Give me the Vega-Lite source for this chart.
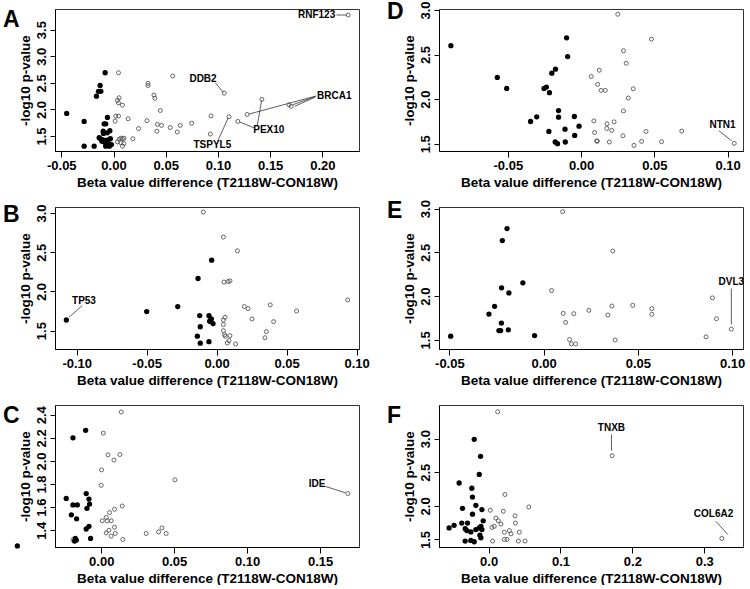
{
  "$schema": "https://vega.github.io/schema/vega-lite/v6.json",
  "background": "white",
  "padding": {"left": 2, "top": 0, "right": 5, "bottom": 0},
  "columns": 2,
  "spacing": {"row": 56, "column": 80},
  "bounds": "flush",
  "config": {
    "font": "Liberation Sans",
    "view": {"stroke": "#333", "strokeWidth": 1},
    "axis": {"grid": false, "labelFont": "Liberation Sans", "labelFontWeight": "bold", "labelFontSize": 13, "labelColor": "black",
             "titleFont": "Liberation Sans", "titleFontWeight": "bold", "titleFontSize": 13.5, "titleColor": "black",
             "tickColor": "black", "domainColor": "black", "labelOverlap": false, "labelFlush": false},
    "axisX": {"tickSize": 6, "labelPadding": 2, "titlePadding": 3},
    "axisY": {"tickSize": 5, "labelPadding": 2, "titlePadding": 3, "labelAngle": -90, "labelAlign": "center", "labelBaseline": "bottom"},
    "title": {"anchor": "start", "frame": "group", "font": "Liberation Sans", "fontSize": 23, "fontWeight": "bold", "color": "black", "dx": -52, "offset": -23}
  },
  "datasets": {
    "A": [
      {"x": -0.0448, "y": 1.925, "t": "f"}, {"x": -0.0281, "y": 1.775, "t": "f"}, {"x": -0.0281, "y": 1.31, "t": "f"}, {"x": -0.0185, "y": 1.31, "t": "f"},
      {"x": -0.008, "y": 2.69, "t": "f"}, {"x": -0.0128, "y": 2.45, "t": "f"}, {"x": -0.0144, "y": 2.34, "t": "f"}, {"x": -0.0121, "y": 2.34, "t": "f"},
      {"x": -0.0163, "y": 2.25, "t": "f"}, {"x": -0.0058, "y": 1.85, "t": "f"}, {"x": -0.009, "y": 1.73, "t": "f"}, {"x": -0.0074, "y": 1.73, "t": "f"},
      {"x": -0.0099, "y": 1.59, "t": "f"}, {"x": -0.0035, "y": 1.6, "t": "f"}, {"x": -0.006, "y": 1.56, "t": "f"}, {"x": -0.0096, "y": 1.55, "t": "f"},
      {"x": -0.0137, "y": 1.47, "t": "f"}, {"x": -0.012, "y": 1.44, "t": "f"}, {"x": -0.01, "y": 1.43, "t": "f"}, {"x": -0.0075, "y": 1.42, "t": "f"},
      {"x": -0.005, "y": 1.43, "t": "f"}, {"x": -0.003, "y": 1.45, "t": "f"}, {"x": -0.011, "y": 1.4, "t": "f"}, {"x": -0.008, "y": 1.375, "t": "f"},
      {"x": -0.0055, "y": 1.37, "t": "f"}, {"x": -0.0074, "y": 1.31, "t": "f"}, {"x": -0.004, "y": 1.31, "t": "f"}, {"x": -0.002, "y": 1.34, "t": "f"},
      {"x": 0.0048, "y": 2.69, "t": "o"}, {"x": 0.0566, "y": 2.63, "t": "o"}, {"x": 0.033, "y": 2.49, "t": "o"}, {"x": 0.033, "y": 2.45, "t": "o"},
      {"x": 0.0387, "y": 2.27, "t": "o"}, {"x": 0.0396, "y": 2.21, "t": "o"}, {"x": 0.106, "y": 2.306, "t": "o"}, {"x": 0.0054, "y": 2.22, "t": "o"},
      {"x": 0.0038, "y": 2.17, "t": "o"}, {"x": 0.0048, "y": 2.125, "t": "o"}, {"x": 0.0086, "y": 2.08, "t": "o"}, {"x": 0.0448, "y": 1.98, "t": "o"},
      {"x": 0.142, "y": 2.19, "t": "o"}, {"x": 0.168, "y": 2.088, "t": "o"}, {"x": 0.17, "y": 2.058, "t": "o"}, {"x": 0.1279, "y": 1.906, "t": "o"},
      {"x": 0.119, "y": 1.775, "t": "o"}, {"x": 0.1106, "y": 1.8625, "t": "o"}, {"x": 0.0934, "y": 1.88, "t": "o"}, {"x": 0.0927, "y": 1.5375, "t": "o"},
      {"x": 0.0748, "y": 1.74, "t": "o"}, {"x": 0.0639, "y": 1.7, "t": "o"}, {"x": 0.061, "y": 1.575, "t": "o"}, {"x": 0.0543, "y": 1.66, "t": "o"},
      {"x": 0.046, "y": 1.7, "t": "o"}, {"x": 0.042, "y": 1.72, "t": "o"}, {"x": 0.0416, "y": 1.59, "t": "o"}, {"x": 0.032, "y": 1.79, "t": "o"},
      {"x": 0.024, "y": 1.64, "t": "o"}, {"x": 0.014, "y": 1.825, "t": "o"}, {"x": 0.0022, "y": 1.875, "t": "o"}, {"x": 0.0048, "y": 1.875, "t": "o"},
      {"x": 0.0016, "y": 1.78, "t": "o"}, {"x": 0.0185, "y": 1.45, "t": "o"}, {"x": 0.007, "y": 1.46, "t": "o"}, {"x": 0.0054, "y": 1.44, "t": "o"},
      {"x": 0.0086, "y": 1.45, "t": "o"}, {"x": 0.01, "y": 1.46, "t": "o"}, {"x": 0.0038, "y": 1.39, "t": "o"}, {"x": 0.007, "y": 1.375, "t": "o"},
      {"x": 0.01, "y": 1.36, "t": "o"}, {"x": 0.0086, "y": 1.31, "t": "o"}, {"x": 0.2247, "y": 3.775, "t": "o"}
    ],
    "A_lab": [
      {"x": 0.1944, "y": 3.775, "label": "RNF123"}, {"x": 0.0857, "y": 2.58, "label": "DDB2"}, {"x": 0.2113, "y": 2.25, "label": "BRCA1"},
      {"x": 0.1487, "y": 1.606, "label": "PEX10"}, {"x": 0.0946, "y": 1.331, "label": "TSPYL5"}
    ],
    "A_seg": [
      {"x": 0.2134, "y": 3.775, "x2": 0.2232, "y2": 3.775}, {"x": 0.0975, "y": 2.5, "x2": 0.1049, "y2": 2.325},
      {"x": 0.1934, "y": 2.25, "x2": 0.1295, "y2": 1.912}, {"x": 0.1934, "y": 2.245, "x2": 0.1715, "y2": 2.088}, {"x": 0.1934, "y": 2.235, "x2": 0.1735, "y2": 2.06},
      {"x": 0.1375, "y": 1.6875, "x2": 0.1418, "y2": 2.17}, {"x": 0.1343, "y": 1.656, "x2": 0.1208, "y2": 1.765},
      {"x": 0.0997, "y": 1.406, "x2": 0.1098, "y2": 1.84}
    ],
    "D": [
      {"x": -0.0889, "y": 2.599, "t": "f"}, {"x": -0.0572, "y": 2.243, "t": "f"}, {"x": -0.0508, "y": 2.12, "t": "f"}, {"x": -0.0253, "y": 2.12, "t": "f"},
      {"x": -0.0237, "y": 2.135, "t": "f"}, {"x": -0.0216, "y": 2.072, "t": "f"}, {"x": -0.02, "y": 2.291, "t": "f"}, {"x": -0.0175, "y": 2.336, "t": "f"},
      {"x": -0.0099, "y": 2.688, "t": "f"}, {"x": -0.0092, "y": 2.477, "t": "f"}, {"x": -0.0154, "y": 1.871, "t": "f"}, {"x": -0.0154, "y": 1.797, "t": "f"},
      {"x": -0.0303, "y": 1.801, "t": "f"}, {"x": -0.0345, "y": 1.749, "t": "f"}, {"x": -0.0046, "y": 1.805, "t": "f"}, {"x": -0.0014, "y": 1.697, "t": "f"},
      {"x": -0.011, "y": 1.663, "t": "f"}, {"x": -0.022, "y": 1.637, "t": "f"}, {"x": -0.0044, "y": 1.593, "t": "f"}, {"x": -0.0177, "y": 1.519, "t": "f"},
      {"x": -0.0161, "y": 1.5, "t": "f"}, {"x": -0.0108, "y": 1.519, "t": "f"},
      {"x": 0.025, "y": 2.952, "t": "o"}, {"x": 0.048, "y": 2.673, "t": "o"}, {"x": 0.0289, "y": 2.543, "t": "o"}, {"x": 0.0308, "y": 2.402, "t": "o"},
      {"x": 0.0124, "y": 2.324, "t": "o"}, {"x": 0.0069, "y": 2.254, "t": "o"}, {"x": 0.0113, "y": 2.165, "t": "o"}, {"x": 0.0136, "y": 2.098, "t": "o"},
      {"x": 0.0165, "y": 2.098, "t": "o"}, {"x": 0.0356, "y": 2.116, "t": "o"}, {"x": 0.0322, "y": 2.012, "t": "o"}, {"x": 0.0289, "y": 1.868, "t": "o"},
      {"x": 0.0087, "y": 1.756, "t": "o"}, {"x": 0.0177, "y": 1.723, "t": "o"}, {"x": 0.0225, "y": 1.745, "t": "o"}, {"x": 0.0175, "y": 1.671, "t": "o"},
      {"x": 0.0209, "y": 1.649, "t": "o"}, {"x": 0.0092, "y": 1.626, "t": "o"}, {"x": 0.0285, "y": 1.589, "t": "o"}, {"x": 0.0443, "y": 1.637, "t": "o"},
      {"x": 0.0687, "y": 1.641, "t": "o"}, {"x": 0.0106, "y": 1.53, "t": "o"}, {"x": 0.0111, "y": 1.528, "t": "o"}, {"x": 0.0193, "y": 1.519, "t": "o"},
      {"x": 0.0413, "y": 1.526, "t": "o"}, {"x": 0.0549, "y": 1.522, "t": "o"}, {"x": 0.0361, "y": 1.481, "t": "o"}, {"x": 0.1045, "y": 1.504, "t": "o"}
    ],
    "D_lab": [{"x": 0.0965, "y": 1.712, "label": "NTN1"}],
    "D_seg": [{"x": 0.094, "y": 1.645, "x2": 0.1027, "y2": 1.533}],
    "B": [
      {"x": -0.1074, "y": 1.636, "t": "f"}, {"x": -0.05, "y": 1.743, "t": "f"}, {"x": -0.0278, "y": 1.807, "t": "f"}, {"x": -0.0133, "y": 2.165, "t": "f"},
      {"x": -0.0036, "y": 2.399, "t": "f"}, {"x": -0.0121, "y": 1.692, "t": "f"}, {"x": -0.0055, "y": 1.69, "t": "f"}, {"x": -0.0038, "y": 1.65, "t": "f"},
      {"x": -0.005, "y": 1.62, "t": "f"}, {"x": -0.0026, "y": 1.59, "t": "f"}, {"x": -0.0117, "y": 1.55, "t": "f"}, {"x": -0.0138, "y": 1.43, "t": "f"},
      {"x": -0.0117, "y": 1.34, "t": "f"}, {"x": -0.0055, "y": 1.36, "t": "f"},
      {"x": -0.0095, "y": 3.012, "t": "o"}, {"x": 0.0048, "y": 2.693, "t": "o"}, {"x": 0.0148, "y": 2.518, "t": "o"}, {"x": 0.0052, "y": 2.12, "t": "o"},
      {"x": 0.0081, "y": 2.126, "t": "o"}, {"x": 0.0095, "y": 2.135, "t": "o"}, {"x": 0.006, "y": 1.67, "t": "o"}, {"x": 0.0048, "y": 1.636, "t": "o"},
      {"x": 0.0048, "y": 1.577, "t": "o"}, {"x": 0.0048, "y": 1.5, "t": "o"}, {"x": 0.0057, "y": 1.449, "t": "o"}, {"x": 0.0062, "y": 1.428, "t": "o"},
      {"x": 0.0095, "y": 1.436, "t": "o"}, {"x": 0.0088, "y": 1.372, "t": "o"}, {"x": 0.0076, "y": 1.342, "t": "o"}, {"x": 0.0136, "y": 1.33, "t": "o"},
      {"x": 0.0198, "y": 1.807, "t": "o"}, {"x": 0.0224, "y": 1.781, "t": "o"}, {"x": 0.0252, "y": 1.649, "t": "o"}, {"x": 0.0383, "y": 1.828, "t": "o"},
      {"x": 0.0407, "y": 1.615, "t": "o"}, {"x": 0.0355, "y": 1.487, "t": "o"}, {"x": 0.0345, "y": 1.41, "t": "o"}, {"x": 0.0571, "y": 1.751, "t": "o"},
      {"x": 0.0936, "y": 1.892, "t": "o"}
    ],
    "B_lab": [{"x": -0.0948, "y": 1.883, "label": "TP53"}],
    "B_seg": [{"x": -0.096, "y": 1.82, "x2": -0.1055, "y2": 1.67}],
    "E": [
      {"x": -0.0194, "y": 2.773, "t": "f"}, {"x": -0.0219, "y": 2.635, "t": "f"}, {"x": -0.011, "y": 2.152, "t": "f"}, {"x": -0.0223, "y": 2.095, "t": "f"},
      {"x": -0.0184, "y": 2.037, "t": "f"}, {"x": -0.026, "y": 1.884, "t": "f"}, {"x": -0.029, "y": 1.795, "t": "f"}, {"x": -0.0224, "y": 1.692, "t": "f"},
      {"x": -0.0237, "y": 1.607, "t": "f"}, {"x": -0.0228, "y": 1.607, "t": "f"}, {"x": -0.0187, "y": 1.615, "t": "f"}, {"x": -0.0493, "y": 1.542, "t": "f"},
      {"x": -0.0048, "y": 1.55, "t": "f"},
      {"x": 0.0101, "y": 2.965, "t": "o"}, {"x": 0.0367, "y": 2.516, "t": "o"}, {"x": 0.0042, "y": 2.064, "t": "o"}, {"x": 0.0104, "y": 1.803, "t": "o"},
      {"x": 0.0117, "y": 1.7, "t": "o"}, {"x": 0.016, "y": 1.8, "t": "o"}, {"x": 0.024, "y": 1.838, "t": "o"}, {"x": 0.0341, "y": 1.784, "t": "o"},
      {"x": 0.0362, "y": 1.887, "t": "o"}, {"x": 0.0473, "y": 1.895, "t": "o"}, {"x": 0.0574, "y": 1.857, "t": "o"}, {"x": 0.0574, "y": 1.792, "t": "o"},
      {"x": 0.0138, "y": 1.504, "t": "o"}, {"x": 0.0147, "y": 1.454, "t": "o"}, {"x": 0.017, "y": 1.454, "t": "o"}, {"x": 0.038, "y": 1.5, "t": "o"},
      {"x": 0.0862, "y": 1.535, "t": "o"}, {"x": 0.0896, "y": 1.98, "t": "o"}, {"x": 0.0917, "y": 1.742, "t": "o"}, {"x": 0.0996, "y": 1.623, "t": "o"}
    ],
    "E_lab": [{"x": 0.0996, "y": 2.164, "label": "DVL3"}],
    "E_seg": [{"x": 0.0996, "y": 2.087, "x2": 0.0996, "y2": 1.676}],
    "C": [
      {"x": -0.024, "y": 1.676, "t": "f"}, {"x": -0.0103, "y": 1.718, "t": "f"}, {"x": -0.0084, "y": 1.67, "t": "f"}, {"x": -0.008, "y": 1.627, "t": "f"},
      {"x": -0.0098, "y": 1.59, "t": "f"}, {"x": -0.0194, "y": 1.619, "t": "f"}, {"x": -0.0164, "y": 1.619, "t": "f"}, {"x": -0.0205, "y": 1.534, "t": "f"},
      {"x": -0.0169, "y": 1.499, "t": "f"}, {"x": -0.0084, "y": 1.434, "t": "f"}, {"x": -0.0103, "y": 1.411, "t": "f"}, {"x": -0.0073, "y": 1.329, "t": "f"},
      {"x": -0.0178, "y": 1.329, "t": "f"}, {"x": -0.0171, "y": 1.315, "t": "f"}, {"x": -0.0183, "y": 1.306, "t": "f"}, {"x": -0.0107, "y": 2.266, "t": "f"},
      {"x": -0.0194, "y": 2.201, "t": "f"}, {"x": -0.0575, "y": 1.264, "t": "f"},
      {"x": 0.0137, "y": 2.425, "t": "o"}, {"x": 0.0014, "y": 2.241, "t": "o"}, {"x": 0.0046, "y": 2.053, "t": "o"}, {"x": 0.0128, "y": 2.056, "t": "o"},
      {"x": 0.0087, "y": 2.008, "t": "o"}, {"x": 0.0002, "y": 1.923, "t": "o"}, {"x": 0.0, "y": 1.789, "t": "o"}, {"x": 0.0505, "y": 1.837, "t": "o"},
      {"x": 0.169, "y": 1.718, "t": "o"}, {"x": 0.0144, "y": 1.61, "t": "o"}, {"x": 0.0091, "y": 1.582, "t": "o"}, {"x": 0.0057, "y": 1.553, "t": "o"},
      {"x": 0.0034, "y": 1.511, "t": "o"}, {"x": 0.0068, "y": 1.482, "t": "o"}, {"x": 0.0007, "y": 1.482, "t": "o"}, {"x": 0.0041, "y": 1.482, "t": "o"},
      {"x": 0.0091, "y": 1.426, "t": "o"}, {"x": 0.0053, "y": 1.4, "t": "o"}, {"x": 0.0034, "y": 1.377, "t": "o"}, {"x": 0.0068, "y": 1.349, "t": "o"},
      {"x": 0.0096, "y": 1.372, "t": "o"}, {"x": 0.0148, "y": 1.32, "t": "o"}, {"x": 0.0308, "y": 1.372, "t": "o"}, {"x": 0.0393, "y": 1.386, "t": "o"},
      {"x": 0.0416, "y": 1.42, "t": "o"}, {"x": 0.0445, "y": 1.372, "t": "o"}, {"x": -0.0194, "y": 1.318, "t": "o"}
    ],
    "C_lab": [{"x": 0.148, "y": 1.798, "label": "IDE"}],
    "C_seg": [{"x": 0.1537, "y": 1.78, "x2": 0.1674, "y2": 1.724}],
    "F": [
      {"x": -0.02, "y": 2.99, "t": "f"}, {"x": -0.0112, "y": 2.736, "t": "f"}, {"x": -0.013, "y": 2.467, "t": "f"}, {"x": -0.041, "y": 2.34, "t": "f"},
      {"x": -0.0233, "y": 2.262, "t": "f"}, {"x": -0.0224, "y": 2.13, "t": "f"}, {"x": -0.0177, "y": 2.008, "t": "f"}, {"x": -0.0363, "y": 1.964, "t": "f"},
      {"x": -0.0093, "y": 1.945, "t": "f"}, {"x": -0.0224, "y": 1.876, "t": "f"}, {"x": -0.0075, "y": 1.778, "t": "f"}, {"x": -0.048, "y": 1.71, "t": "f"},
      {"x": -0.055, "y": 1.671, "t": "f"}, {"x": -0.0373, "y": 1.744, "t": "f"}, {"x": -0.0293, "y": 1.744, "t": "f"}, {"x": -0.0107, "y": 1.695, "t": "f"},
      {"x": -0.013, "y": 1.671, "t": "f"}, {"x": -0.0093, "y": 1.647, "t": "f"}, {"x": -0.0326, "y": 1.661, "t": "f"}, {"x": -0.0303, "y": 1.632, "t": "f"},
      {"x": -0.0247, "y": 1.612, "t": "f"}, {"x": -0.0177, "y": 1.647, "t": "f"}, {"x": -0.0121, "y": 1.564, "t": "f"}, {"x": -0.0107, "y": 1.524, "t": "f"},
      {"x": -0.0326, "y": 1.476, "t": "f"}, {"x": -0.0247, "y": 1.485, "t": "f"}, {"x": -0.02, "y": 1.466, "t": "f"},
      {"x": 0.0126, "y": 3.4, "t": "o"}, {"x": 0.172, "y": 2.746, "t": "o"}, {"x": 0.3246, "y": 1.515, "t": "o"}, {"x": 0.0228, "y": 2.169, "t": "o"},
      {"x": 0.0559, "y": 1.984, "t": "o"}, {"x": 0.0023, "y": 1.935, "t": "o"}, {"x": 0.0205, "y": 1.92, "t": "o"}, {"x": 0.0368, "y": 1.852, "t": "o"},
      {"x": 0.0102, "y": 1.818, "t": "o"}, {"x": 0.0135, "y": 1.778, "t": "o"}, {"x": 0.0172, "y": 1.73, "t": "o"}, {"x": 0.0373, "y": 1.744, "t": "o"},
      {"x": 0.0079, "y": 1.695, "t": "o"}, {"x": 0.0047, "y": 1.68, "t": "o"}, {"x": 0.0289, "y": 1.632, "t": "o"}, {"x": 0.0312, "y": 1.583, "t": "o"},
      {"x": 0.0219, "y": 1.607, "t": "o"}, {"x": 0.0428, "y": 1.607, "t": "o"}, {"x": 0.0219, "y": 1.5, "t": "o"}, {"x": 0.0256, "y": 1.5, "t": "o"},
      {"x": 0.0056, "y": 1.476, "t": "o"}, {"x": 0.0415, "y": 1.476, "t": "o"}, {"x": 0.0508, "y": 1.476, "t": "o"}
    ],
    "F_lab": [{"x": 0.171, "y": 3.151, "label": "TNXB"}, {"x": 0.313, "y": 1.876, "label": "COL6A2"}],
    "F_seg": [{"x": 0.171, "y": 3.063, "x2": 0.171, "y2": 2.82}, {"x": 0.3163, "y": 1.769, "x2": 0.333, "y2": 1.573}]
  },
  "concat": [
    {
      "width": 304, "height": 142, "title": "A",
      "encoding": {
        "x": {"field": "x", "type": "quantitative", "title": "Beta value difference (T2118W-CON18W)",
              "scale": {"domain": [-0.056, 0.235], "nice": false, "zero": false},
              "axis": {"values": [-0.05, 0, 0.05, 0.1, 0.15, 0.2], "labelExpr": "datum.value < 0 ? '-' + format(-datum.value, '.2f') : format(datum.value, '.2f')"}},
        "y": {"field": "y", "type": "quantitative", "title": "-log10 p-value",
              "scale": {"domain": [1.219, 3.888], "nice": false, "zero": false},
              "axis": {"values": [1.5, 2, 2.5, 3, 3.5], "format": ".1f"}}
      },
      "layer": [
        {"data": {"name": "A_seg"}, "mark": {"type": "rule", "color": "#333", "strokeWidth": 0.8}, "encoding": {"x2": {"field": "x2"}, "y2": {"field": "y2"}}},
        {"data": {"name": "A"}, "transform": [{"filter": "datum.t == 'o'"}], "mark": {"type": "point", "filled": false, "color": "#555", "strokeWidth": 0.9, "size": 16, "opacity": 1}},
        {"data": {"name": "A"}, "transform": [{"filter": "datum.t == 'f'"}], "mark": {"type": "circle", "color": "black", "size": 28, "opacity": 1}},
        {"data": {"name": "A_lab"}, "mark": {"type": "text", "fontWeight": "bold", "fontSize": 10, "font": "Liberation Sans", "color": "black"}, "encoding": {"text": {"field": "label"}}}
      ]
    },
    {
      "width": 304, "height": 142, "title": "D",
      "encoding": {
        "x": {"field": "x", "type": "quantitative", "title": "Beta value difference (T2118W-CON18W)",
              "scale": {"domain": [-0.097, 0.1105], "nice": false, "zero": false},
              "axis": {"values": [-0.05, 0, 0.05, 0.1], "labelExpr": "datum.value < 0 ? '-' + format(-datum.value, '.2f') : format(datum.value, '.2f')"}},
        "y": {"field": "y", "type": "quantitative", "title": "-log10 p-value",
              "scale": {"domain": [1.418, 3.011], "nice": false, "zero": false},
              "axis": {"values": [1.5, 2, 2.5, 3], "format": ".1f"}}
      },
      "layer": [
        {"data": {"name": "D_seg"}, "mark": {"type": "rule", "color": "#333", "strokeWidth": 0.8}, "encoding": {"x2": {"field": "x2"}, "y2": {"field": "y2"}}},
        {"data": {"name": "D"}, "transform": [{"filter": "datum.t == 'o'"}], "mark": {"type": "point", "filled": false, "color": "#555", "strokeWidth": 0.9, "size": 16, "opacity": 1}},
        {"data": {"name": "D"}, "transform": [{"filter": "datum.t == 'f'"}], "mark": {"type": "circle", "color": "black", "size": 28, "opacity": 1}},
        {"data": {"name": "D_lab"}, "mark": {"type": "text", "fontWeight": "bold", "fontSize": 10, "font": "Liberation Sans", "color": "black"}, "encoding": {"text": {"field": "label"}}}
      ]
    },
    {
      "width": 304, "height": 142, "title": "B",
      "encoding": {
        "x": {"field": "x", "type": "quantitative", "title": "Beta value difference (T2118W-CON18W)",
              "scale": {"domain": [-0.1155, 0.1017], "nice": false, "zero": false},
              "axis": {"values": [-0.1, -0.05, 0, 0.05, 0.1], "labelExpr": "datum.value < 0 ? '-' + format(-datum.value, '.2f') : format(datum.value, '.2f')"}},
        "y": {"field": "y", "type": "quantitative", "title": "-log10 p-value",
              "scale": {"domain": [1.266, 3.077], "nice": false, "zero": false},
              "axis": {"values": [1.5, 2, 2.5, 3], "format": ".1f"}}
      },
      "layer": [
        {"data": {"name": "B_seg"}, "mark": {"type": "rule", "color": "#333", "strokeWidth": 0.8}, "encoding": {"x2": {"field": "x2"}, "y2": {"field": "y2"}}},
        {"data": {"name": "B"}, "transform": [{"filter": "datum.t == 'o'"}], "mark": {"type": "point", "filled": false, "color": "#555", "strokeWidth": 0.9, "size": 16, "opacity": 1}},
        {"data": {"name": "B"}, "transform": [{"filter": "datum.t == 'f'"}], "mark": {"type": "circle", "color": "black", "size": 28, "opacity": 1}},
        {"data": {"name": "B_lab"}, "mark": {"type": "text", "fontWeight": "bold", "fontSize": 10, "font": "Liberation Sans", "color": "black"}, "encoding": {"text": {"field": "label"}}}
      ]
    },
    {
      "width": 304, "height": 142, "title": "E",
      "encoding": {
        "x": {"field": "x", "type": "quantitative", "title": "Beta value difference (T2118W-CON18W)",
              "scale": {"domain": [-0.0555, 0.1058], "nice": false, "zero": false},
              "axis": {"values": [-0.05, 0, 0.05, 0.1], "labelExpr": "datum.value < 0 ? '-' + format(-datum.value, '.2f') : format(datum.value, '.2f')"}},
        "y": {"field": "y", "type": "quantitative", "title": "-log10 p-value",
              "scale": {"domain": [1.396, 3.019], "nice": false, "zero": false},
              "axis": {"values": [1.5, 2, 2.5, 3], "format": ".1f"}}
      },
      "layer": [
        {"data": {"name": "E_seg"}, "mark": {"type": "rule", "color": "#333", "strokeWidth": 0.8}, "encoding": {"x2": {"field": "x2"}, "y2": {"field": "y2"}}},
        {"data": {"name": "E"}, "transform": [{"filter": "datum.t == 'o'"}], "mark": {"type": "point", "filled": false, "color": "#555", "strokeWidth": 0.9, "size": 16, "opacity": 1}},
        {"data": {"name": "E"}, "transform": [{"filter": "datum.t == 'f'"}], "mark": {"type": "circle", "color": "black", "size": 28, "opacity": 1}},
        {"data": {"name": "E_lab"}, "mark": {"type": "text", "fontWeight": "bold", "fontSize": 10, "font": "Liberation Sans", "color": "black"}, "encoding": {"text": {"field": "label"}}}
      ]
    },
    {
      "width": 304, "height": 142, "title": "C",
      "encoding": {
        "x": {"field": "x", "type": "quantitative", "title": "Beta value difference (T2118W-CON18W)",
              "scale": {"domain": [-0.0317, 0.1767], "nice": false, "zero": false},
              "axis": {"values": [0, 0.05, 0.1, 0.15], "labelExpr": "datum.value < 0 ? '-' + format(-datum.value, '.2f') : format(datum.value, '.2f')"}},
        "y": {"field": "y", "type": "quantitative", "title": "-log10 p-value",
              "scale": {"domain": [1.255, 2.485], "nice": false, "zero": false},
              "axis": {"values": [1.4, 1.6, 1.8, 2.0, 2.2, 2.4], "format": ".1f"}}
      },
      "layer": [
        {"data": {"name": "C_seg"}, "mark": {"type": "rule", "color": "#333", "strokeWidth": 0.8}, "encoding": {"x2": {"field": "x2"}, "y2": {"field": "y2"}}},
        {"data": {"name": "C"}, "transform": [{"filter": "datum.t == 'o'"}], "mark": {"type": "point", "filled": false, "color": "#555", "strokeWidth": 0.9, "size": 16, "opacity": 1}},
        {"data": {"name": "C"}, "transform": [{"filter": "datum.t == 'f'"}], "mark": {"type": "circle", "color": "black", "size": 28, "opacity": 1}},
        {"data": {"name": "C_lab"}, "mark": {"type": "text", "fontWeight": "bold", "fontSize": 10, "font": "Liberation Sans", "color": "black"}, "encoding": {"text": {"field": "label"}}}
      ]
    },
    {
      "width": 304, "height": 142, "title": "F",
      "encoding": {
        "x": {"field": "x", "type": "quantitative", "title": "Beta value difference (T2118W-CON18W)",
              "scale": {"domain": [-0.069, 0.354], "nice": false, "zero": false},
              "axis": {"values": [0, 0.1, 0.2, 0.3], "format": ".1f"}},
        "y": {"field": "y", "type": "quantitative", "title": "-log10 p-value",
              "scale": {"domain": [1.388, 3.5], "nice": false, "zero": false},
              "axis": {"values": [1.5, 2, 2.5, 3], "format": ".1f"}}
      },
      "layer": [
        {"data": {"name": "F_seg"}, "mark": {"type": "rule", "color": "#333", "strokeWidth": 0.8}, "encoding": {"x2": {"field": "x2"}, "y2": {"field": "y2"}}},
        {"data": {"name": "F"}, "transform": [{"filter": "datum.t == 'o'"}], "mark": {"type": "point", "filled": false, "color": "#555", "strokeWidth": 0.9, "size": 16, "opacity": 1}},
        {"data": {"name": "F"}, "transform": [{"filter": "datum.t == 'f'"}], "mark": {"type": "circle", "color": "black", "size": 28, "opacity": 1}},
        {"data": {"name": "F_lab"}, "mark": {"type": "text", "fontWeight": "bold", "fontSize": 10, "font": "Liberation Sans", "color": "black"}, "encoding": {"text": {"field": "label"}}}
      ]
    }
  ]
}
